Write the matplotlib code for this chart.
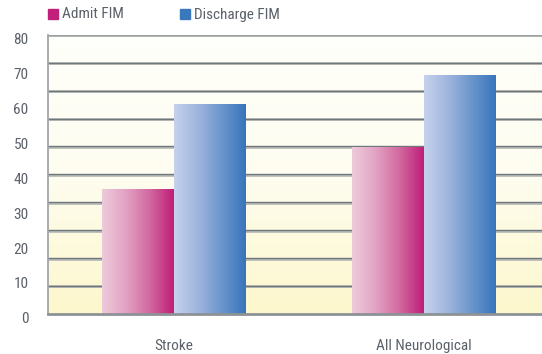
import numpy as np
import matplotlib
matplotlib.use("Agg")
import matplotlib.pyplot as plt
from matplotlib.colors import LinearSegmentedColormap
from matplotlib.patches import Rectangle
from matplotlib.transforms import ScaledTranslation
from matplotlib import font_manager

categories = ["Stroke", "All Neurological"]
series_names = ["Admit FIM", "Discharge FIM"]
admit_fim = [36, 48]
discharge_fim = [60.4, 68.6]
y_ticks = [0, 10, 20, 30, 40, 50, 60, 70, 80]

# prefer a narrow sans if one is installed
names = {f.name for f in font_manager.fontManager.ttflist}
narrow = [n for n in ["Liberation Sans Narrow", "Roboto Condensed",
                      "Open Sans Condensed"] if n in names]
FONT = narrow + ["Roboto", "DejaVu Sans"]
STRETCH = "condensed"
TEXT_COLOR = "#5b6169"
W, H, DPI = 542, 354, 100

fig = plt.figure(figsize=(W / DPI, H / DPI), dpi=DPI)
fig.patch.set_facecolor("white")
left, right, top, bottom = 48, 542, 35.3, 314.3
ax = fig.add_axes([left / W, 1 - bottom / H, (right - left) / W, (bottom - top) / H])

ymax = 80
xlim = (-0.504, 1.472)
ax.set_xlim(*xlim)
ax.set_ylim(0, ymax)

# background: vertical gradient, white-ish at top to pale yellow at bottom
bg_cmap = LinearSegmentedColormap.from_list("bg", ["#fdf7cc", "#fefdf0", "#fffffb"])
bg = np.linspace(0, 1, 256).reshape(-1, 1)
ax.imshow(bg, cmap=bg_cmap, aspect="auto", origin="lower",
          extent=(xlim[0], xlim[1], 0, ymax), zorder=0)

# gridlines every 8 units
for g in np.arange(8, ymax + 0.1, 8):
    ax.axhline(g, color="#b9bcb8", lw=2.0, zorder=1)
    ax.axhline(g + 0.12, color="#6f777c", lw=1.0, zorder=1)

admit_cmap = LinearSegmentedColormap.from_list(
    "admit", ["#eecbdb", "#e2a2c3", "#d2689f", "#bf1e78"])
disch_cmap = LinearSegmentedColormap.from_list(
    "disch", ["#c6d2ec", "#9fb5de", "#6a95cb", "#3775bb"])

x = np.arange(len(categories))
width = 0.288
grad = np.linspace(0, 1, 256).reshape(1, -1)
for vals, offset, cmap in [(admit_fim, -width / 2, admit_cmap),
                           (discharge_fim, width / 2, disch_cmap)]:
    bars = ax.bar(x + offset, vals, width=width, color="none",
                  linewidth=0, zorder=2)
    for b in bars:
        x0, y0 = b.get_x(), b.get_y()
        im = ax.imshow(grad, cmap=cmap, aspect="auto",
                       extent=(x0, x0 + b.get_width(), y0, y0 + b.get_height()),
                       zorder=3)
        im.set_clip_path(b)

ax.set_xlim(*xlim)
ax.set_ylim(0, ymax)

for s in ["top", "right"]:
    ax.spines[s].set_visible(False)
ax.spines["left"].set_color("#a3a6a8")
ax.spines["left"].set_linewidth(1.3)
ax.spines["bottom"].set_color("#8d9296")
ax.spines["bottom"].set_linewidth(2.0)
ax.spines["left"].set_zorder(4)
ax.spines["bottom"].set_zorder(4)
ax.axhline(ymax, color="#a2a6aa", lw=1.3, zorder=4)

ax.set_yticks(y_ticks)
ax.set_yticklabels([str(v) for v in y_ticks], fontsize=11, color=TEXT_COLOR,
                   family=FONT, fontstretch=STRETCH)
ax.tick_params(axis="y", length=0, pad=14)
for lab in ax.get_yticklabels():
    lab.set_transform(lab.get_transform()
                      + ScaledTranslation(0, -3.5 / DPI, fig.dpi_scale_trans))

ax.set_xticks(x)
ax.set_xticklabels(categories, fontsize=11, color=TEXT_COLOR, family=FONT,
                   fontstretch=STRETCH)
ax.tick_params(axis="x", length=0, pad=18)

# legend
legend_colors = ["#c0207a", "#3a78bc"]
legend_x = [48, 180]
for name, col, lx in zip(series_names, legend_colors, legend_x):
    fig.patches.append(Rectangle((lx / W, 1 - 19.3 / H), 10 / W, 10 / H,
                                 transform=fig.transFigure, color=col))
    fig.text((lx + 14) / W, 1 - 14.5 / H, name, fontsize=11, color=TEXT_COLOR,
             family=FONT, fontstretch=STRETCH, va="center", ha="left")

fig.savefig("out.png", dpi=DPI)
